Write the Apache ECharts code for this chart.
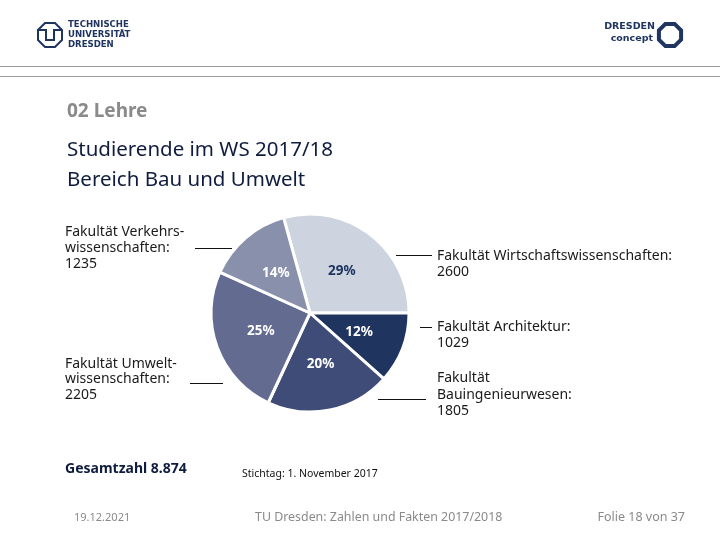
<!DOCTYPE html>
<html><head><meta charset="utf-8">
<script src="https://cdn.jsdelivr.net/npm/echarts@6/dist/echarts.min.js"></script>
<style>html,body{margin:0;padding:0;background:#fff}#c{width:720px;height:540px}</style>
</head><body><div id="c"></div>
<script>
// Data
const categories = ['Fakultät Wirtschaftswissenschaften', 'Fakultät Architektur', 'Fakultät Bauingenieurwesen', 'Fakultät Umweltwissenschaften', 'Fakultät Verkehrswissenschaften'];
const values = [2600, 1029, 1805, 2205, 1235];
const sliceColors = ['#cdd3df', '#1f3560', '#3e4c77', '#636b91', '#8890ac'];
const labelTexts = [
  'Fakultät Wirtschaftswissenschaften:\n2600',
  'Fakultät Architektur:\n1029',
  'Fakultät\nBauingenieurwesen:\n1805',
  'Fakultät Umwelt-\nwissenschaften:\n2205',
  'Fakultät Verkehrs-\nwissenschaften:\n1235'
];
const total = values.reduce((a, b) => a + b, 0);

const chart = echarts.init(document.getElementById('c'));
const navy = '#0f1c3d';
const font = "'Noto Sans', sans-serif";

// octagon ring for the logos
function octagon(cx, cy, r) {
  const pts = [];
  for (let i = 0; i < 8; i++) {
    const a = Math.PI / 8 + i * Math.PI / 4;
    pts.push([cx + r * Math.cos(a), cy + r * Math.sin(a)]);
  }
  return pts;
}

const annot = [
  { i: 4, x: 65, y: 224, lh: 16, lx1: 195, lx2: 232, ly: 248.5 },
  { i: 3, x: 65, y: 356, lh: 15.5, lx1: 190, lx2: 223, ly: 383.5 },
  { i: 0, x: 437, y: 248, lh: 16, lx1: 396, lx2: 432, ly: 255.5 },
  { i: 1, x: 437, y: 319, lh: 16, lx1: 420, lx2: 432, ly: 327.5 },
  { i: 2, x: 437, y: 370, lh: 16.5, lx1: 378, lx2: 426, ly: 399.5 }
];
const annotGraphics = [];
annot.forEach(a => {
  annotGraphics.push({ type: 'text', left: a.x, top: a.y, style: { text: labelTexts[a.i], font: '14px ' + font, fill: '#1a1a1a', lineHeight: a.lh } });
  annotGraphics.push({ type: 'line', shape: { x1: a.lx1, y1: a.ly, x2: a.lx2, y2: a.ly }, style: { stroke: '#111', lineWidth: 1 } });
});

chart.setOption({
  animation: false,
  backgroundColor: '#fff',
  series: [{
    type: 'pie',
    center: [310, 313],
    radius: [0, 99],
    startAngle: values[0] / total * 360,
    clockwise: true,
    data: categories.map((c, i) => ({ name: c, value: values[i], itemStyle: { color: sliceColors[i] },
      label: { color: i === 0 ? '#1f3560' : '#fff' } })),
    itemStyle: { borderColor: '#fff', borderWidth: 3 },
    label: {
      show: true, position: 'inside',
      formatter: p => Math.round(p.value / total * 100) + '%',
      fontFamily: font, fontSize: 13.5, fontWeight: 'bold'
    },
    labelLine: { show: false },
    emphasis: { disabled: true }
  }],
  graphic: [
    // header lines
    { type: 'line', shape: { x1: 0, y1: 66.5, x2: 720, y2: 66.5 }, style: { stroke: '#9a9a9a', lineWidth: 1 } },
    { type: 'line', shape: { x1: 0, y1: 76.5, x2: 720, y2: 76.5 }, style: { stroke: '#9a9a9a', lineWidth: 1 } },
    // TU logo
    { type: 'polygon', shape: { points: octagon(50, 35, 13) }, style: { fill: 'none', stroke: '#1f3560', lineWidth: 2 } },
    { type: 'polyline', shape: { points: [[38, 30], [46, 30], [46, 40], [54, 40], [54, 30], [62, 30]] }, style: { fill: 'none', stroke: '#1f3560', lineWidth: 2 } },
    { type: 'text', left: 68, top: 20, style: { text: 'TECHNISCHE\nUNIVERSITÄT\nDRESDEN', font: "bold 9.5px 'DejaVu Sans Condensed', 'DejaVu Sans', sans-serif", fill: '#1f3560', lineHeight: 10 } },
    // DRESDEN concept logo
    { type: 'text', right: 65, top: 22, style: { text: 'DRESDEN', font: "bold 9.5px 'DejaVu Sans', sans-serif", fill: '#1f3560', textAlign: 'right' } },
    { type: 'text', right: 67, top: 34, style: { text: 'concept', font: "bold 9.5px 'DejaVu Sans', sans-serif", fill: '#1f3560', textAlign: 'right' } },
    { type: 'polygon', shape: { points: octagon(670, 35, 12) }, style: { fill: 'none', stroke: '#1f3560', lineWidth: 4 } },
    // titles
    { type: 'text', left: 67, top: 102, style: { text: '02 Lehre', font: 'bold 19px ' + font, fill: '#8a8a8a' } },
    { type: 'text', left: 67, top: 140, style: { text: 'Studierende im WS 2017/18', font: '20.5px ' + font, fill: navy } },
    { type: 'text', left: 67, top: 170, style: { text: 'Bereich Bau und Umwelt', font: '20.5px ' + font, fill: navy } },
    // bottom texts
    { type: 'text', left: 65, top: 462, style: { text: 'Gesamtzahl 8.874', font: 'bold 14px ' + font, fill: navy } },
    { type: 'text', left: 242, top: 469, style: { text: 'Stichtag: 1. November 2017', font: "10.5px 'Liberation Sans Narrow', 'Noto Sans', sans-serif", fill: '#111' } },
    { type: 'text', left: 74, top: 512, style: { text: '19.12.2021', font: "11px 'Liberation Sans Narrow', 'Noto Sans', sans-serif", fill: '#8a8a8a' } },
    { type: 'text', left: 255, top: 511, style: { text: 'TU Dresden: Zahlen und Fakten 2017/2018', font: '12.4px ' + font, fill: '#8a8a8a' } },
    { type: 'text', right: 35, top: 511, style: { text: 'Folie 18 von 37', font: '12.5px ' + font, fill: '#8a8a8a', textAlign: 'right' } }
  ].concat(annotGraphics)
});
</script>
</body></html>
